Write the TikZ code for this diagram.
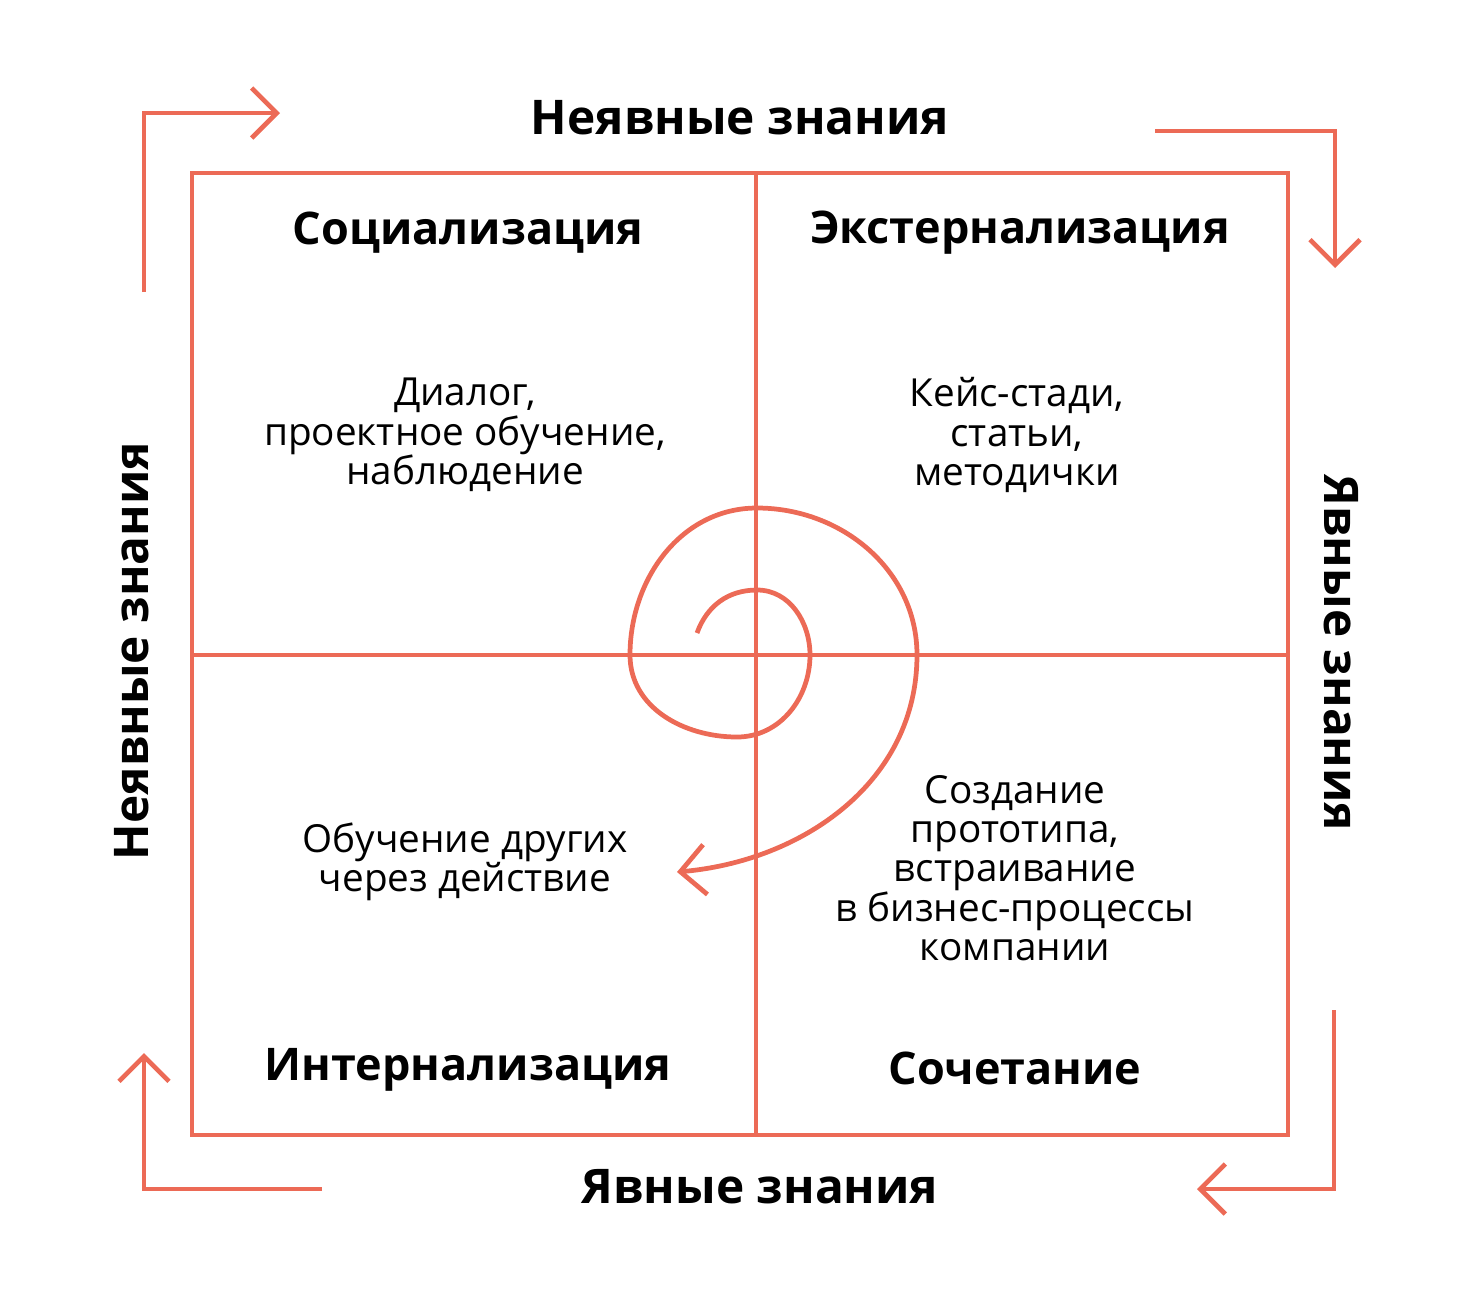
\documentclass[tikz,border=0pt]{standalone}
\usepackage{fontspec}
\setmainfont{Open Sans}
\usetikzlibrary{positioning,arrows.meta}
\definecolor{coral}{RGB}{236,106,86}

\begin{document}
\begin{tikzpicture}[
    x=0.02cm, y=0.02cm,
    frame/.style={draw=coral, line width=2.7pt},
    flow/.style={draw=coral, line width=2.7pt, -{Straight Barb[length=0.5cm, width=1cm]}},
    axis/.style={font=\fontsize{27.2}{32}\selectfont\bfseries},
    quad/.style={font=\fontsize{25.6}{30}\selectfont\bfseries},
    body/.style={font=\fontsize{22}{22.4}\selectfont, align=center},
  ]
    \useasboundingbox (0,0) rectangle (1481,-1303);

    % grid
    \coordinate (nw) at (192,-173);
    \coordinate (se) at (1288,-1135);
    \coordinate (mid) at (756,-655);
    \draw[frame] (nw) rectangle (se);
    \draw[frame] (mid |- nw) -- (mid |- se);
    \draw[frame] (mid -| nw) -- (mid -| se);

    % axis labels
    \node[axis] (tacittop) at (740,-118) {Неявные знания};
    \node[axis] (explbot) at (760,-1187) {Явные знания};
    \node[axis, rotate=90] (tacitleft) at (132,-651) {Неявные знания};
    \node[axis, rotate=-90] (explright) at (1341,-653) {Явные знания};

    % quadrants
    \node[quad] (social) at (468,-233) {Социализация};
    \node[quad] (extern) at (1020,-233) {Экстернализация};
    \node[quad] (intern) at (468,-1070) {Интернализация};
    \node[quad] (combo) at (1015,-1068) {Сочетание};

    \node[body] (socialtxt) at (465,-435) {Диалог,\\проектное обучение,\\наблюдение};
    \node[body] (externtxt) at (1017,-435) {Кейс-стади,\\статьи,\\методички};
    \node[body] (interntxt) at (465,-862) {Обучение других\\через действие};
    \node[body] (combotxt) at (1015,-868) {Создание\\прототипа,\\встраивание\\в бизнес-процессы\\компании};

    % corner arrows
    \coordinate (tlstart) at (144,-292);
    \coordinate (tlend) at (280,-113);
    \coordinate (trstart) at (1155,-131);
    \coordinate (trend) at (1335,-268);
    \coordinate (brstart) at (1334,-1010);
    \coordinate (brend) at (1197,-1189);
    \coordinate (blstart) at (322,-1189);
    \coordinate (blend) at (144,-1053);
    \draw[flow] (tlstart) |- (tlend);
    \draw[flow] (trstart) -| (trend);
    \draw[flow] (brstart) |- (brend);
    \draw[flow] (blstart) -| (blend);

    % spiral
    \coordinate (spstart) at (697,-633);
    \coordinate (spend) at (677,-872);
    \draw[flow] (spstart) to[out=70,in=180] (757,-590) to[out=0,in=90] (810,-655)
      to[out=-90,in=0] (737,-737) to[out=180,in=-90] (630,-655)
      to[out=90,in=180] (757,-508) to[out=0,in=90] (917,-655)
      to[out=-90,in=5] (spend);
  \end{tikzpicture}
\end{document}
